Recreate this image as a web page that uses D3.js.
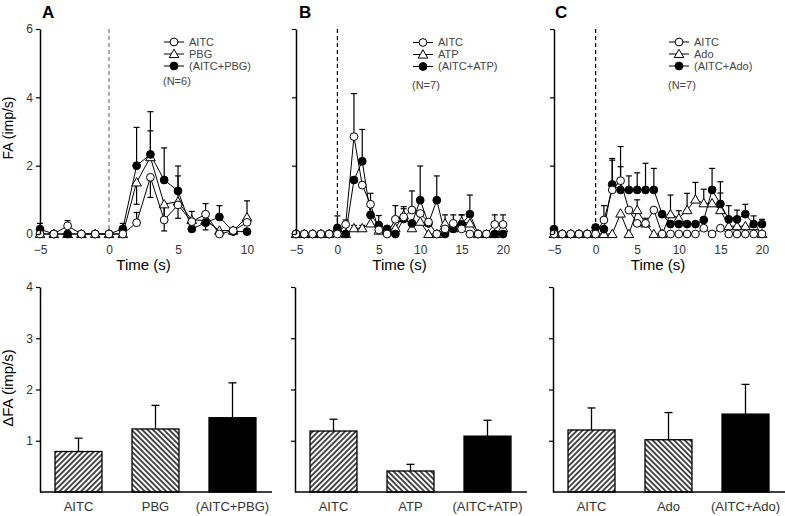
<!DOCTYPE html>
<html><head><meta charset="utf-8">
<script src="https://cdn.jsdelivr.net/npm/d3@7"></script>
<style>body{margin:0;background:#fff}svg{display:block;font-family:"Liberation Sans",Arial,sans-serif}</style>
</head><body><svg id="c" width="785" height="516"></svg>
<script>
// ---------- data ----------
const timeA  = [-5,-4,-3,-2,-1,0,1,2,3,4,5,6,7,8,9,10];
const timeBC = [-5,-4,-3,-2,-1,0,1,2,3,4,5,6,7,8,9,10,11,12,13,14,15,16,17,18,19,20];
const ticksA = [-5,0,5,10];
const ticksBC = [-5,0,5,10,15,20];
const yTicksTop = [0,2,4,6];
const yTicksBottom = [1,2,3,4];

// Panel A (signed SEM: + up, - down, 0 = none)
const A_AITC     = [0,0,0.24,0,0,0,0,0.33,1.66,0.41,0.85,0.36,0.58,0,0.1,0.34];
const A_AITC_err = [0,0,0.15,0,0,0,0,0.3,-0.59,0.45,-0.39,0.3,0.31,0,0,0];
const A_PBG      = [0,0,0,0,0,0,0,1.51,2.25,0.87,0.95,0.41,0.4,0.1,0.1,0.49];
const A_PBG_err  = [0,0,0,0,0,0,0,-0.64,0.77,-0.78,0.75,0,-0.28,0,0,0.48];
const A_COMB     = [0.14,0,0,0,0,0,0.15,2.0,2.33,1.58,1.26,0.15,0.33,0.5,0.07,0.07];
const A_COMB_err = [0.17,0,0,0,0,0,0.16,1.12,1.25,0.94,0.73,0,0,0.33,0,0];

// Panel B
const B_AITC     = [0,0,0,0,0,0,0.28,2.85,1.43,0.87,0.12,0,0.43,0.5,0.7,0.6,0.35,0,0.15,0.31,0.15,0,0,0,0.28,0.28];
const B_AITC_err = [0,0,0,0,0,0,0.13,1.26,0,0.32,0,0,0.4,0,0.56,0,0,0,0,0.25,0,0,0,0,0.28,0.28];
const B_ATP      = [0,0,0,0,0,0.17,0,0.17,0.17,0.31,0.1,0.1,0.17,0.55,0.17,0.36,0,0,0.31,0.17,0.36,0.31,0,0,0,0.17];
const B_ATP_err  = [0,0,0,0,0,0,0,0.08,0.08,0,0,0,0,0.25,0,0,0,0,0.25,0,0.2,0,0,0,0,0];
const B_COMB     = [0,0,0,0,0,0.18,0,1.58,2.13,0.56,0.26,0.15,0,0.44,0.31,0.99,0.31,0.99,0,0.15,0.28,0.58,0,0,0,0];
const B_COMB_err = [0,0,0,0,0,0.35,0,0,0.93,0.3,0.28,0,0,0.3,0,1.0,0,0.71,0,0,0.28,0.56,0,0,0,0];

// Panel C
const C_AITC     = [0,0,0,0,0,0,0.41,1.29,1.56,0.7,0.31,0.31,0.7,0,0,0,0,0,0.17,0,0.17,0,0,0,0,0];
const C_AITC_err = [0,0,0,0,0,0,0.42,0.87,1.0,0,0,0.15,0,0,0,0,0,0,0,0,0,0,0,0,0,0];
const C_ADO      = [0,0,0,0,0,0,0,0,0.6,0,0.7,0.31,0,0,0.58,0.46,0.7,1.01,0.9,0.9,0.7,0.23,0.23,0.23,0.23,0];
const C_ADO_err  = [0,0,0,0,0,0,0,0,0,0,0.3,0,0,0,0.56,0.22,0.49,0.5,0.41,0,0.5,0,0,0,0,0];
const C_COMB     = [0.14,0,0,0,0,0.19,0.14,1.45,1.29,1.29,1.29,1.29,1.29,0.58,0.29,0.29,0.29,0.29,0.41,1.29,0.88,0.43,0.43,0.58,0.29,0.29];
const C_COMB_err = [0,0,0,0,0,0,0,0.76,0.68,0.41,0.5,0.78,0.63,0,0,0,0,0,0,0.63,0.65,0.4,0.27,0.29,0.24,0.14];

// Bar charts (mean, SEM)
const barCatsA = ["AITC","PBG","(AITC+PBG)"];
const barCatsB = ["AITC","ATP","(AITC+ATP)"];
const barCatsC = ["AITC","Ado","(AITC+Ado)"];
const barMeanA = [0.79,1.23,1.45];
const barErrA  = [0.26,0.46,0.68];
const barMeanB = [1.19,0.41,1.09];
const barErrB  = [0.23,0.13,0.31];
const barMeanC = [1.21,1.02,1.52];
const barErrC  = [0.43,0.53,0.58];

// ---------- drawing ----------
const svg = d3.select("#c");
const defs = svg.append("defs");
function hatch(id, angle){
  const p = defs.append("pattern").attr("id",id).attr("patternUnits","userSpaceOnUse")
    .attr("width",3.8).attr("height",10).attr("patternTransform",`rotate(${angle})`);
  p.append("rect").attr("width",3.8).attr("height",10).attr("fill","#fff");
  p.append("line").attr("x1",1.9).attr("x2",1.9).attr("y1",0).attr("y2",10)
    .attr("stroke","#000").attr("stroke-width",1.4);
}
hatch("hf",45); hatch("hb",-45);

const TXT = "#333";
const yTop = d3.scaleLinear([0,6],[234,29]);
const yBot = d3.scaleLinear([0,4],[492,287]);

function marker(g, type, cx, cy){
  if(type==="tri"){
    g.append("path").attr("d", d3.symbol(d3.symbolTriangle, 40)())
      .attr("transform",`translate(${cx},${cy+0.8})`)
      .attr("fill","#fff").attr("stroke","#000").attr("stroke-width",1);
  } else {
    g.append("circle").attr("cx",cx).attr("cy",cy).attr("r",3.9)
      .attr("fill", type==="filled" ? "#000" : "#fff").attr("stroke","#000").attr("stroke-width",1);
  }
}

function topPanel(cfg){
  const g = svg.append("g");
  const x = d3.scaleLinear(cfg.domain, cfg.range);
  g.append("line").attr("x1",x(0)).attr("x2",x(0)).attr("y1",yTop(6)).attr("y2",yTop(0))
    .attr("stroke",cfg.dash).attr("stroke-width",1.2).attr("stroke-dasharray","4,3");
  const line = d3.line().x((d,i)=>x(cfg.time[i])).y(d=>yTop(d));
  cfg.series.forEach(s=>{
    g.append("path").attr("d",line(s.vals)).attr("fill","none").attr("stroke","#000").attr("stroke-width",1);
  });
  cfg.series.forEach(s=>{
    s.errs.forEach((e,i)=>{
      if(!e) return;
      const xx = x(cfg.time[i]), y1 = yTop(s.vals[i]), y2 = yTop(s.vals[i]+e);
      g.append("line").attr("x1",xx).attr("x2",xx).attr("y1",y1).attr("y2",y2).attr("stroke","#000").attr("stroke-width",1.2);
      g.append("line").attr("x1",xx-3).attr("x2",xx+3).attr("y1",y2).attr("y2",y2).attr("stroke","#000").attr("stroke-width",1.2);
    });
  });
  ["tri","filled","open"].forEach(t=>{
    cfg.series.filter(s=>s.type===t).forEach(s=>{
      s.vals.forEach((v,i)=>marker(g, t, x(cfg.time[i]), yTop(v)));
    });
  });
  const ya = g.append("g").attr("transform",`translate(${cfg.axisX},0)`)
    .call(d3.axisLeft(yTop).tickValues(yTicksTop).tickSize(4).tickSizeOuter(0).tickPadding(3)
      .tickFormat(cfg.labels ? d3.format("d") : ()=>""));
  ya.select(".domain").attr("stroke-width",1.5);
  ya.selectAll(".tick line").attr("stroke-width",1.2);
  ya.selectAll("text").attr("font-size",12).attr("fill",TXT).attr("font-family",null);
  const xa = g.append("g").attr("transform","translate(0,244)")
    .call(d3.axisBottom(x).tickValues(cfg.ticks).tickSize(0).tickPadding(1).tickFormat(d3.format("d")));
  xa.select(".domain").remove();
  xa.selectAll("text").attr("font-size",12).attr("fill",TXT).attr("font-family",null);
  g.append("text").attr("x",x((cfg.domain[0]+cfg.domain[1])/2)).attr("y",269.5)
    .attr("text-anchor","middle").attr("font-size",15).attr("fill","#000").text("Time (s)");
  cfg.series.forEach((s,i)=>{
    const ly = cfg.legY[i];
    g.append("line").attr("x1",cfg.legX-10).attr("x2",cfg.legX+10).attr("y1",ly).attr("y2",ly).attr("stroke","#000").attr("stroke-width",1);
    marker(g, s.type, cfg.legX, ly);
    g.append("text").attr("x",cfg.legX+15).attr("y",ly).attr("dy","0.35em").attr("font-size",11).attr("fill","#444").text(s.name);
  });
  g.append("text").attr("x",cfg.legX-11).attr("y",cfg.legY[3]).attr("dy","0.35em").attr("font-size",11).attr("fill","#444").text(cfg.nText);
  g.append("text").attr("x",cfg.titleX).attr("y",18).attr("font-size",17).attr("font-weight","bold").attr("fill","#000").text(cfg.title);
}

function barPanel(cfg){
  const g = svg.append("g");
  const x = d3.scaleBand().domain(cfg.cats).range([cfg.axisX, cfg.axisX+231]).paddingInner(0.39).paddingOuter(0.195);
  cfg.cats.forEach((c,i)=>{
    const fill = i===0 ? "url(#hf)" : i===1 ? "url(#hb)" : "#000";
    const m = cfg.means[i], e = cfg.errs[i], cx = x(c)+x.bandwidth()/2;
    g.append("line").attr("x1",cx).attr("x2",cx).attr("y1",yBot(m)).attr("y2",yBot(m+e)).attr("stroke","#000").attr("stroke-width",1.3);
    g.append("line").attr("x1",cx-4).attr("x2",cx+4).attr("y1",yBot(m+e)).attr("y2",yBot(m+e)).attr("stroke","#000").attr("stroke-width",1.3);
    g.append("rect").attr("x",x(c)).attr("y",yBot(m)).attr("width",x.bandwidth()).attr("height",yBot(0)-yBot(m))
      .attr("fill",fill).attr("stroke","#000").attr("stroke-width",1.3);
    g.append("text").attr("x",cx).attr("y",511).attr("text-anchor","middle").attr("font-size",13).attr("fill",TXT).text(c);
  });
  g.append("line").attr("x1",cfg.axisX).attr("x2",cfg.axisX+232).attr("y1",yBot(0)).attr("y2",yBot(0)).attr("stroke","#000").attr("stroke-width",1.5);
  const ya = g.append("g").attr("transform",`translate(${cfg.axisX},0)`)
    .call(d3.axisLeft(yBot).tickValues(yTicksBottom).tickSize(4).tickSizeOuter(0).tickPadding(3)
      .tickFormat(cfg.labels ? d3.format("d") : ()=>""));
  ya.select(".domain").attr("stroke-width",1.5);
  ya.selectAll(".tick line").attr("stroke-width",1.2);
  ya.selectAll("text").attr("font-size",12).attr("fill",TXT).attr("font-family",null);
}

topPanel({time:timeA, domain:[-5,10], range:[40,247], axisX:40, ticks:ticksA, labels:true, dash:"#777",
  series:[{name:"AITC",vals:A_AITC,errs:A_AITC_err,type:"open"},
          {name:"PBG",vals:A_PBG,errs:A_PBG_err,type:"tri"},
          {name:"(AITC+PBG)",vals:A_COMB,errs:A_COMB_err,type:"filled"}],
  legX:174, legY:[42,54,66,81], nText:"(N=6)", title:"A", titleX:42});
topPanel({time:timeBC, domain:[-5,20], range:[296,503], axisX:296, ticks:ticksBC, labels:false, dash:"#000",
  series:[{name:"AITC",vals:B_AITC,errs:B_AITC_err,type:"open"},
          {name:"ATP",vals:B_ATP,errs:B_ATP_err,type:"tri"},
          {name:"(AITC+ATP)",vals:B_COMB,errs:B_COMB_err,type:"filled"}],
  legX:423, legY:[42.5,54.5,66.5,85], nText:"(N=7)", title:"B", titleX:299});
topPanel({time:timeBC, domain:[-5,20], range:[554,762], axisX:554, ticks:ticksBC, labels:false, dash:"#000",
  series:[{name:"AITC",vals:C_AITC,errs:C_AITC_err,type:"open"},
          {name:"Ado",vals:C_ADO,errs:C_ADO_err,type:"tri"},
          {name:"(AITC+Ado)",vals:C_COMB,errs:C_COMB_err,type:"filled"}],
  legX:679, legY:[42,54,66,85], nText:"(N=7)", title:"C", titleX:555});

barPanel({cats:barCatsA, means:barMeanA, errs:barErrA, axisX:40, labels:true});
barPanel({cats:barCatsB, means:barMeanB, errs:barErrB, axisX:295, labels:false});
barPanel({cats:barCatsC, means:barMeanC, errs:barErrC, axisX:553, labels:false});

svg.append("text").attr("transform","translate(13,128) rotate(-90)").attr("text-anchor","middle")
  .attr("font-size",14).attr("fill","#000").text("FA (imp/s)");
svg.append("text").attr("transform","translate(13,388) rotate(-90)").attr("text-anchor","middle")
  .attr("font-size",15).attr("fill","#000").text("ΔFA (imp/s)");
</script></body></html>
